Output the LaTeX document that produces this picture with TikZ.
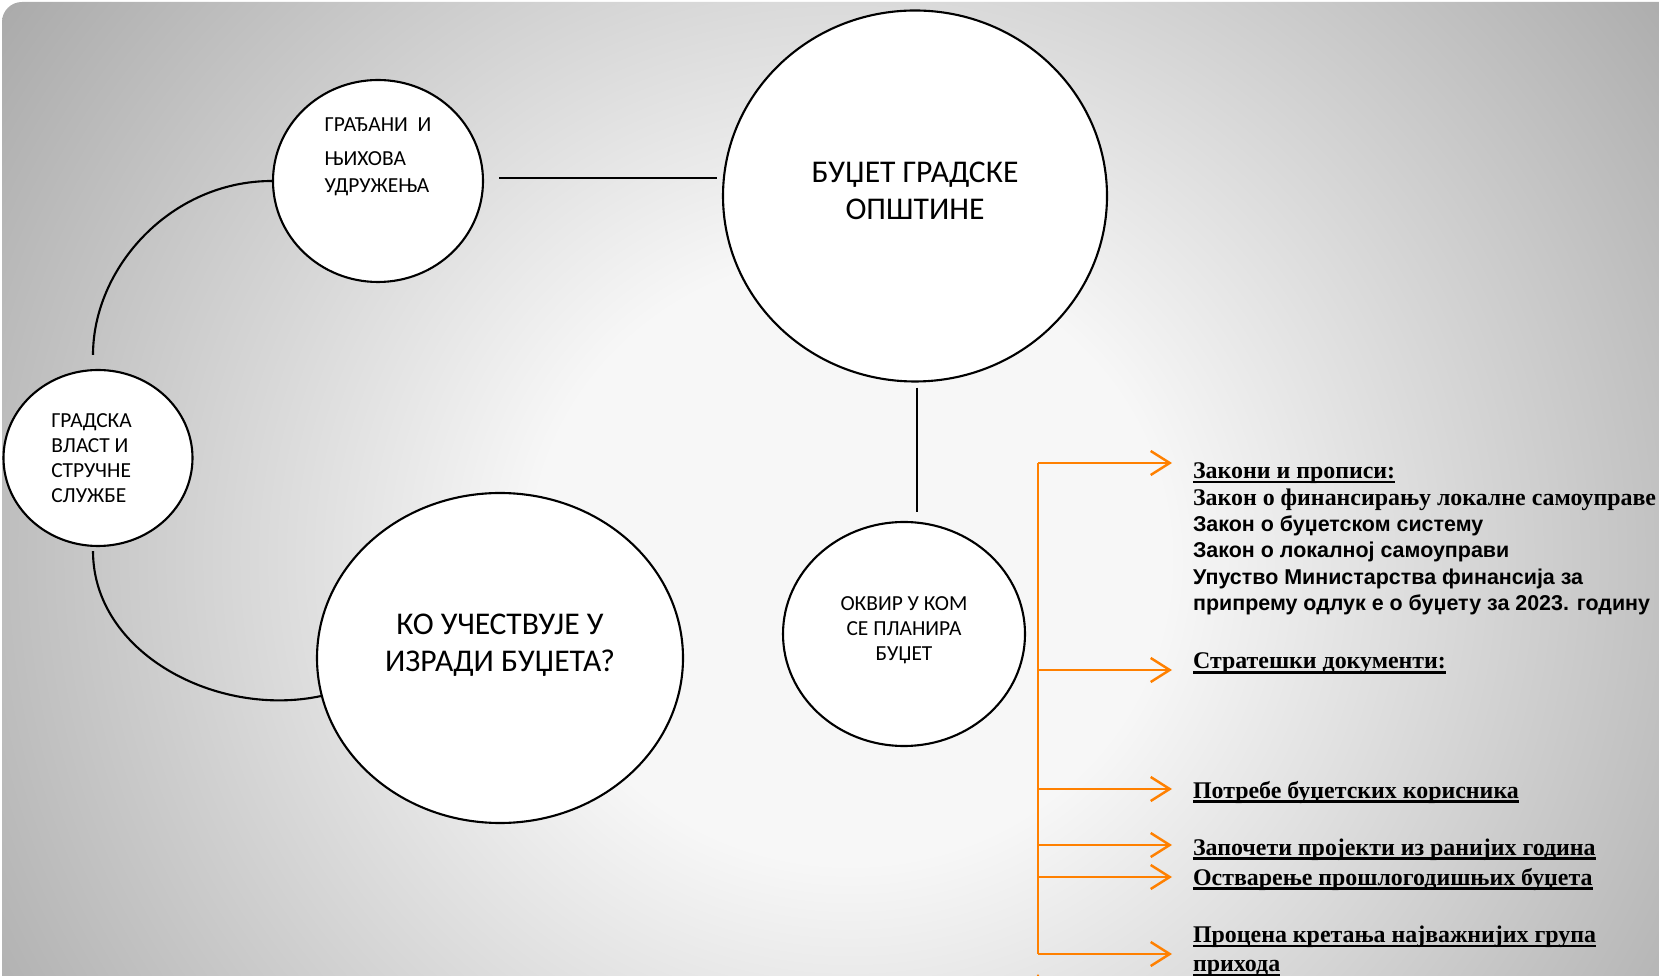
\documentclass[tikz,border=0pt]{standalone}
\usepackage{fontspec}
\setmainfont{Liberation Serif}
\newfontfamily\calibrifont{Carlito}
\newfontfamily\arialfont{Liberation Sans}
\usetikzlibrary{shapes.geometric,arrows.meta}
\definecolor{bgin}{gray}{0.97}
\definecolor{bgout}{HTML}{A8A8A8}
\definecolor{branchorange}{HTML}{FF8000}
\pgfdeclareradialshading{slidebg}{\pgfpointorigin}{color(0bp)=(bgin); color(7.5bp)=(bgin); color(25bp)=(bgout); color(50bp)=(bgout)}
\newcommand\lawsans{\arialfont\fontsize{6.1}{7.5}\selectfont}
\newsavebox\undlbox
\newcommand\undl[1]{\sbox\undlbox{#1}\rlap{\smash{\rule[-1.3pt]{\wd\undlbox}{0.6pt}}}\usebox\undlbox}
\begin{document}
\begin{tikzpicture}[x=0.1mm, y=-0.1mm, line width=0.6pt,
    main node/.style={draw, ellipse, fill=white, inner sep=0pt},
    big text/.style={align=center, font=\calibrifont\fontsize{9}{10.6}\selectfont},
    small text/.style={align=left, font=\calibrifont\fontsize{6.1}{7.1}\selectfont},
    branch/.style={draw=branchorange, line width=0.7pt},
    heading/.style={anchor=base west, inner sep=0pt, font=\bfseries\fontsize{6.8}{8.1}\selectfont}]
  \useasboundingbox (0,0) rectangle (1659,976);
  \begin{scope}
    \clip[rounded corners=2mm] (2,2) rectangle (1700,1020);
    \shade[shading=slidebg] (-200,-440) rectangle (1900,1560);
  \end{scope}
  % circles
  \node[main node, minimum width=38.4mm, minimum height=37.1mm,
    label={[big text, yshift=0.5mm]center:{БУЏЕТ ГРАДСКЕ\\ОПШТИНЕ}}] (1) at (915,196) {};
  \node[main node, minimum width=21mm, minimum height=20.2mm,
    label={[small text, font=\calibrifont\fontsize{6.1}{7.6}\selectfont, yshift=2.4mm]center:{ГРАЂАНИ\ \ И\\[2pt]ЊИХОВА\\УДРУЖЕЊА}}] (2) at (378,181) {};
  \node[main node, minimum width=18.9mm, minimum height=17.6mm,
    label={[small text, xshift=-0.65mm]center:{ГРАДСКА\\ВЛАСТ И\\СТРУЧНЕ\\СЛУЖБЕ}}] (3) at (98,458) {};
  \node[main node, minimum width=36.6mm, minimum height=33mm,
    label={[big text, yshift=1.3mm]center:{КО УЧЕСТВУЈЕ У\\ИЗРАДИ БУЏЕТА?}}] (4) at (500,658) {};
  \node[main node, minimum width=24.2mm, minimum height=22.4mm,
    label={[small text, align=center, yshift=0.4mm]center:{ОКВИР У КОМ\\СЕ ПЛАНИРА\\БУЏЕТ}}] (5) at (904,634) {};
  \draw[shorten <=1.5mm, shorten >=0.5mm] ([yshift=0.3mm]2.east) -- ([yshift=0.3mm]1.west |- 2.east);
  \draw[shorten <=0.5mm, shorten >=0.9mm] ([xshift=0.2mm]1.south) -- ([xshift=0.2mm]1.south |- 5.north);
  \draw[shorten >=1.4mm] (2.west) to[out=180, in=90] ([xshift=-0.5mm]3.north);
  \draw[shorten <=0.4mm] ([xshift=-0.5mm]3.south) to[out=-90, in=192] (4.192);
  % what the budget is planned from
  \node[anchor=north west, inner sep=0pt, align=left, font=\bfseries\fontsize{6.8}{7.5}\selectfont] (6) at (1192,462)
    {\undl{Закони и прописи:}\\Закон о финансирању локалне самоуправе\\{\lawsans Закон о буџетском систему}\\{\lawsans Закон о локалној самоуправи}\\{\lawsans Упуство Министарства финансија за}\\{\lawsans припрему одлук е о буџету за 2023. годину}};
  \node[heading] (7) at (1192,669) {\undl{Стратешки документи:}};
  \node[heading] (8) at (1192,798) {\undl{Потребе буџетских корисника}};
  \node[heading] (9) at (1192,855) {\undl{Започети пројекти из ранијих година}};
  \node[heading] (10) at (1192,885) {\undl{Остварење прошлогодишњих буџета}};
  \node[heading, anchor=north west, align=left] (11) at (1192,925) {\undl{Процена кретања најважнијих група}\\\undl{прихода}};
  \coordinate (a1) at (1038,463);
  \coordinate (a2) at (1038,670);
  \coordinate (a3) at (1038,789);
  \coordinate (a4) at (1038,845);
  \coordinate (a5) at (1038,877);
  \coordinate (a6) at (1038,954);
  \draw[branch] (a1) -- (a6);
  \path[branch, -{Straight Barb[length=1.9mm, width=2.4mm]}, shorten >=2mm]
    (a1) edge (a1 -| 6.west)
    (a2) edge (a2 -| 7.west)
    (a3) edge (a3 -| 8.west)
    (a4) edge (a4 -| 9.west)
    (a5) edge (a5 -| 10.west)
    (a6) edge (a6 -| 11.west);
\end{tikzpicture}
\end{document}
